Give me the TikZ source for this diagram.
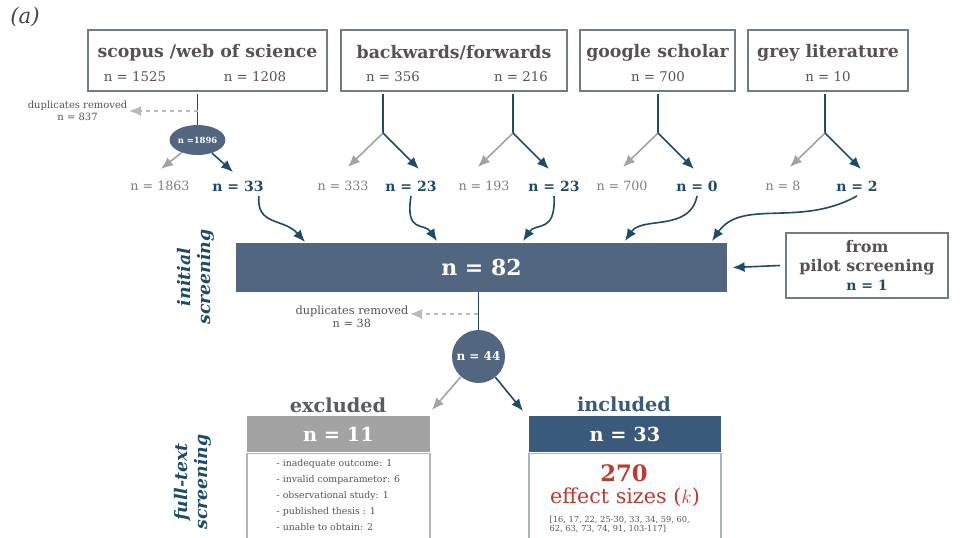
\documentclass[tikz,border=0pt]{standalone}
\usepackage{fontspec}
\setmainfont{DejaVu Serif}
\usepackage{tikz}
\usetikzlibrary{arrows, arrows.meta, shapes, positioning}
\tikzset{>={Latex[length=9pt, width=7.5pt]}}
\definecolor{myblue}{RGB}{28, 76, 106}
\definecolor{myslate}{RGB}{82, 103, 127}
\definecolor{myhead}{RGB}{58, 90, 124}
\definecolor{mygrey}{RGB}{163, 163, 163}
\definecolor{mygreytext}{RGB}{125, 125, 125}
\definecolor{mytext}{RGB}{88, 81, 81}
\definecolor{myframe}{RGB}{112, 126, 132}
\definecolor{myexcl}{RGB}{85, 93, 97}
\definecolor{myred}{RGB}{192, 57, 43}

\tikzset{
	srcbox/.style = {draw = myframe, line width = 1.2pt, minimum height = 45.75pt, inner sep = 0pt},
	srctitle/.style = {text = mytext, font = \bfseries\fontsize{13}{15}\selectfont},
	srcnum/.style = {text = mytext, font = \fontsize{10}{12}\selectfont},
	keepnum/.style = {text = myblue, font = \bfseries\fontsize{10.5}{12}\selectfont},
	dropnum/.style = {text = mygreytext, font = \fontsize{9.5}{11}\selectfont},
	bline/.style = {draw = myblue, line width = 1.2pt},
	barrow/.style = {->, draw = myblue, line width = 1.2pt},
	garrow/.style = {->, draw = mygrey, line width = 1.2pt},
	dasharrow/.style = {->, draw = mygrey!75, dashed, line width = 0.8pt},
	dupnote/.style = {text = mytext, align = center, inner sep = 1pt},
	stage/.style = {rotate = 90, text = myblue, align = center, font = \bfseries\itshape\fontsize{13}{14.5}\selectfont},
	headbox/.style = {minimum height = 27.5pt, inner sep = 0pt, text = white, font = \bfseries\fontsize{14.5}{14.5}\selectfont},
	verdict/.style = {font = \bfseries\fontsize{14.5}{14.5}\selectfont}
}

\begin{document}
\begin{tikzpicture}[x = 0.75pt, y = -0.75pt]
\useasboundingbox (0, 0) rectangle (965, 537);

\node[text = mytext!85!black, font = \itshape\fontsize{16}{16}\selectfont] (tag) at (25, 17) {(a)};

% sources
\node[srcbox, minimum width = 179.25pt] (scopus) at (207.5, 60.5) {};
\node[srcbox, minimum width = 169.5pt] (backfwd) at (454, 60.5) {};
\node[srcbox, minimum width = 116.25pt] (google) at (657.5, 60.5) {};
\node[srcbox, minimum width = 120pt] (greylit) at (828, 60.5) {};

\node[srctitle] (scopusT) at (207.5, 53) {scopus /web of science};
\node[srctitle] (backfwdT) at (454, 53) {backwards/forwards};
\node[srctitle] (googleT) at (657.5, 53) {google scholar};
\node[srctitle] (greylitT) at (828, 53) {grey literature};

\foreach \x / \n / \name in {135/1525/sa, 255/1208/sb, 393/356/ba, 521/216/bb, 658/700/go, 828/10/gr}{
	\node[srcnum] (num-\name) at (\x, 77) {n = \n};
}

% scopus / wos pooled first
\coordinate (top-sc) at (197.5, 94);
\coordinate (dup1) at (197.5, 111);
\coordinate (drop-sc) at (161, 169);
\coordinate (keep-sc) at (233, 172);
\node[ellipse, fill = myslate, minimum width = 35.25pt, minimum height = 22.5pt, inner sep = 0pt,
	text = white, font = \bfseries\fontsize{6.3}{7}\selectfont] (pool1) at (197.5, 140) {n =1896};
\node[dupnote, font = \fontsize{7.5}{9}\selectfont, anchor = east] (dupnote1) at (129, 111) {duplicates removed\\n = 837};
\draw[bline] (top-sc) -- (pool1);
\draw[dasharrow] (dup1) -- (dupnote1.east |- dup1);
\draw[garrow] (pool1) -- (drop-sc);
\draw[barrow] (pool1) -- (keep-sc);

% the other sources split directly
\foreach \x / \name in {383/bwa, 513/bwb, 658/gs, 825/gl}{
	\coordinate (top-\name) at (\x, 94);
	\coordinate (split-\name) at (\x, 133);
	\coordinate (drop-\name) at (\x-35, 167);
	\coordinate (keep-\name) at (\x+36, 169);
	\draw[bline] (top-\name) -- (split-\name);
	\draw[garrow] (split-\name) -- (drop-\name);
	\draw[barrow] (split-\name) -- (keep-\name);
}

\foreach \x / \n / \name in {160/1863/a, 343/333/b, 484/193/c, 622/700/d, 783/8/e}{
	\node[dropnum] (drop\name) at (\x, 186) {n = \n};
}
\foreach \x / \n / \name in {238/33/a, 411/23/b, 554/23/c, 697/0/d, 857/2/e}{
	\node[keepnum] (keep\name) at (\x, 186) {n = \n};
}

% initial screening
\node[fill = myslate, minimum width = 368.25pt, minimum height = 36.75pt, inner sep = 0pt,
	text = white, font = \bfseries\fontsize{16.5}{16.5}\selectfont] (screen) at (481.5, 267.5) {n = 82};
\node[stage] (stage1) at (196, 277) {initial\\screening};

\coordinate (in-a) at (305, 242);
\coordinate (in-b) at (437, 241);
\coordinate (in-c) at (523, 241);
\coordinate (in-d) at (625, 241);
\coordinate (in-e) at (712, 241);
\draw[barrow] ([xshift = -7pt]keepa.south east) .. controls (256, 226) and (284, 218) .. (in-a);
\draw[barrow] (keepb.south) .. controls (405, 234) and (424, 222) .. (in-b);
\draw[barrow] (keepc.south) .. controls (556, 234) and (536, 222) .. (in-c);
\draw[barrow] (keepd.south) .. controls (690, 232) and (642, 216) .. (in-d);
\draw[barrow] (keepe.south) .. controls (800, 228) and (742, 198) .. (in-e);

\node[srcbox, minimum width = 121.5pt, minimum height = 48.75pt, align = center, text = mytext,
	font = \bfseries\fontsize{12}{14.5}\selectfont] (pilot) at (867, 265.5)
	{from\\pilot screening\\{\color{myblue}\fontsize{10.5}{12}\selectfont n = 1}};
\draw[barrow] ([xshift = -4pt]pilot.west) -- ([xshift = 4pt]screen.east);

% full-text screening
\node[circle, fill = myslate, minimum size = 39.75pt, inner sep = 0pt,
	text = white, font = \bfseries\fontsize{9}{9}\selectfont] (pool2) at (478.5, 356.5) {n = 44};
\coordinate (dup2) at (477.5, 314);
\node[dupnote, font = \fontsize{8.5}{10}\selectfont, anchor = north east] (dupnote2) at (410, 304) {duplicates removed\\n = 38};
\draw[bline] (screen.south -| pool2) -- (pool2);
\draw[dasharrow] (dup2) -- (dupnote2.east |- dup2);

\coordinate (to-ex) at (432, 410);
\coordinate (to-in) at (523, 411);
\draw[garrow] (pool2) -- (to-ex);
\draw[barrow] (pool2) -- (to-in);

\node[stage] (stage2) at (193, 482) {full-text\\screening};

\node[verdict, text = myexcl] (exlabel) at (338, 405) {excluded};
\node[headbox, fill = mygrey, minimum width = 137.25pt] (exhead) at (338.5, 434) {n = 11};
\node[draw = mygrey!80, line width = 1pt, minimum width = 137.25pt, minimum height = 72pt, anchor = north] (exbody) at (exhead.south) {};
\node[anchor = north west, align = left, text = mytext, font = \fontsize{7}{11.85}\selectfont] (exlist) at (272, 455)
	{- inadequate outcome: 1\\- invalid comparametor: 6\\- observational study: 1\\- published thesis : 1\\- unable to obtain: 2};

\node[verdict, text = myhead] (inlabel) at (624, 404) {included};
\node[headbox, fill = myhead, minimum width = 144pt] (inhead) at (625, 434) {n = 33};
\node[draw = myhead!45, line width = 1pt, minimum width = 144pt, minimum height = 72pt, anchor = north] (inbody) at (inhead.south) {};
\node[text = myred, font = \bfseries\fontsize{17}{17}\selectfont] (k270) at (624, 473) {270};
\node[text = myred, font = \fontsize{15.5}{16}\selectfont] (ksizes) at (625, 497) {effect sizes ($k$)};
\node[anchor = north west, align = left, text = mytext, font = \fontsize{6.2}{7.2}\selectfont] (kcites) at (545, 511)
	{[16, 17, 22, 25-30, 33, 34, 59, 60,\\62, 63, 73, 74, 91, 103-117]};

\end{tikzpicture}
\end{document}
